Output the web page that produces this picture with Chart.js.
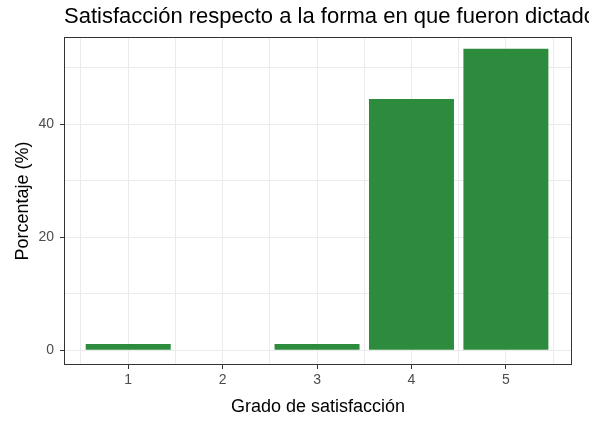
<!DOCTYPE html>
<html>
<head>
<meta charset="utf-8">
<script src="https://cdn.jsdelivr.net/npm/chart.js@4/dist/chart.umd.min.js"></script>
<style>
html,body{margin:0;padding:0;background:#fff;}
canvas{display:block;}
</style>
</head>
<body>
<canvas id="c" width="589" height="421"></canvas>
<script>
const categories = [1, 2, 3, 4, 5];
const porcentajes = [1.11, 0, 1.11, 44.44, 53.33];
const yTickLabels = [0, 20, 40];
const titleText = "Satisfacción respecto a la forma en que fueron dictados";
const xAxisTitle = "Grado de satisfacción";
const yAxisTitle = "Porcentaje (%)";

const FONT = "'Liberation Sans', Arial, sans-serif";

const panelBorder = {
  id: 'panelBorder',
  afterDatasetsDraw(chart) {
    const {ctx, chartArea: a} = chart;
    ctx.save();
    ctx.strokeStyle = '#333333';
    ctx.lineWidth = 1;
    ctx.strokeRect(Math.round(a.left) + 0.5, Math.round(a.top) + 0.5, Math.round(a.right - a.left) - 1, Math.round(a.bottom - a.top) - 1);
    ctx.restore();
  }
};
const plotTitle = {
  id: 'plotTitle',
  afterDraw(chart) {
    const ctx = chart.ctx;
    ctx.save();
    ctx.fillStyle = '#000000';
    ctx.font = "22px " + FONT;
    ctx.textAlign = 'left';
    ctx.textBaseline = 'alphabetic';
    ctx.fillText(titleText, 64, 23);
    ctx.restore();
  }
};

new Chart(document.getElementById('c'), {
  type: 'bar',
  data: {
    datasets: [{
      data: categories.map((c, i) => ({x: c, y: porcentajes[i]})),
      backgroundColor: '#2D8B3D',
      borderWidth: 0,
      barPercentage: 0.9,
      categoryPercentage: 2.0
    }]
  },
  options: {
    responsive: false,
    animation: false,
    layout: {padding: {top: 37, right: 17, bottom: 0, left: 0}},
    plugins: {legend: {display: false}, tooltip: {enabled: false}, title: {display: false}},
    scales: {
      x: {
        type: 'linear',
        offset: false,
        min: 0.32, max: 5.7,
        afterFit(s) { s.height = 56; },
        border: {display: false},
        grid: {
          offset: false,
          color: '#ebebeb', lineWidth: 1, tickLength: 4, tickWidth: 1,
          tickColor: ctx => (ctx.tick && Number.isInteger(ctx.tick.value)) ? '#333333' : 'rgba(0,0,0,0)'
        },
        ticks: {
          stepSize: 0.5, includeBounds: false, autoSkip: false, maxRotation: 0,
          padding: 3, color: '#4d4d4d', font: {family: FONT, size: 14},
          callback: v => categories.includes(v) ? String(v) : ''
        },
        title: {display: true, text: xAxisTitle, color: '#000000', font: {family: FONT, size: 18}, padding: {top: 0, bottom: 3}}
      },
      y: {
        min: -2.6, max: 55.4,
        afterFit(s) { s.width = 64; },
        border: {display: false},
        grid: {
          color: '#ebebeb', lineWidth: 1, tickLength: 4, tickWidth: 1,
          tickColor: ctx => (ctx.tick && yTickLabels.includes(ctx.tick.value)) ? '#333333' : 'rgba(0,0,0,0)'
        },
        ticks: {
          stepSize: 10, includeBounds: false, autoSkip: false,
          padding: 6, color: '#4d4d4d', font: {family: FONT, size: 14},
          callback: v => yTickLabels.includes(v) ? String(v) : ''
        },
        title: {display: true, text: yAxisTitle, color: '#000000', font: {family: FONT, size: 18}, padding: {top: 12, bottom: 0}}
      }
    }
  },
  plugins: [panelBorder, plotTitle]
});
</script>
</body>
</html>
